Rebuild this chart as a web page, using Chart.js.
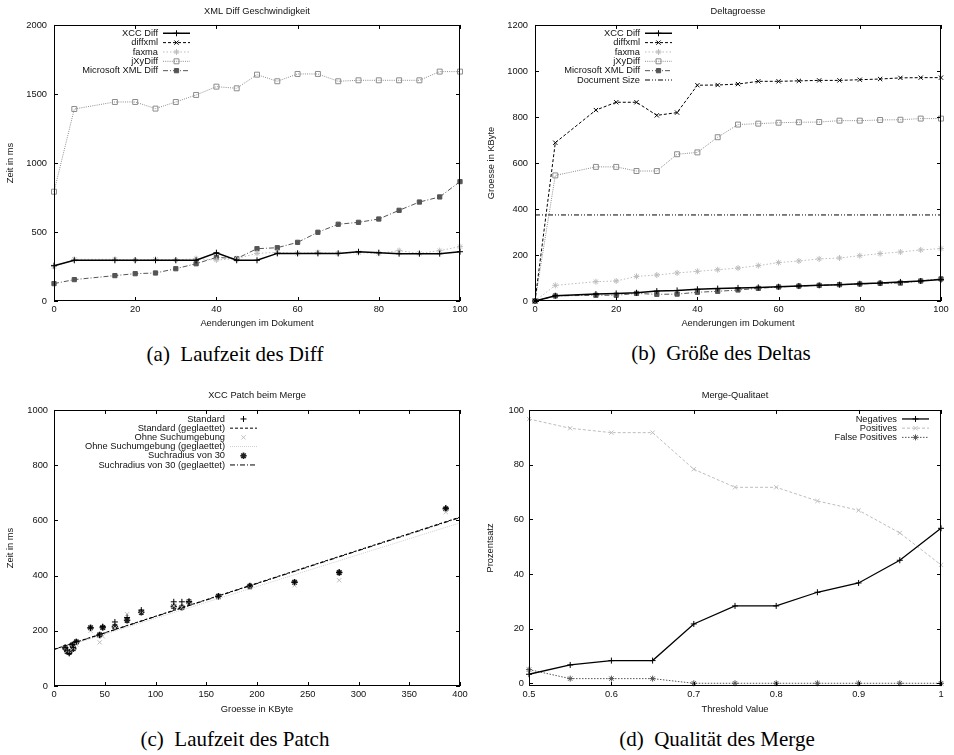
<!DOCTYPE html>
<html>
<head>
<meta charset="utf-8">
<script src="https://cdn.jsdelivr.net/npm/chart.js@4.4.1/dist/chart.umd.min.js"></script>
<style>
  html, body { margin: 0; padding: 0; background: #fff; overflow: hidden; }
  #page { position: relative; width: 954px; height: 755px; }
  canvas { position: absolute; }
  .cap {
    position: absolute;
    text-align: center;
    font-family: "Liberation Serif", "DejaVu Serif", serif;
    font-size: 21px;
    line-height: 21px;
    color: #000;
    white-space: pre;
  }
</style>
</head>
<body>
<div id="page">
  <canvas id="chartA" width="477" height="340" style="left:0;top:0"></canvas>
  <canvas id="chartB" width="477" height="340" style="left:477px;top:0"></canvas>
  <canvas id="chartC" width="477" height="345" style="left:0;top:380px"></canvas>
  <canvas id="chartD" width="477" height="345" style="left:477px;top:380px"></canvas>
  <div class="cap" style="left:0;width:470px;top:344px">(a)  Laufzeit des Diff</div>
  <div class="cap" style="left:481px;width:480px;top:343px">(b)  Größe des Deltas</div>
  <div class="cap" style="left:0;width:470px;top:729px">(c)  Laufzeit des Patch</div>
  <div class="cap" style="left:477px;width:480px;top:729px">(d)  Qualität des Merge</div>
</div>
<script>
// --- (a) + (b): Aenderungen im Dokument ---
const aenderungen = [0, 5, 15, 20, 25, 30, 35, 40, 45, 50, 55, 60, 65, 70, 75, 80, 85, 90, 95, 100];

// (a) Laufzeit in ms
const zeitXcc = [256, 295, 295, 295, 295, 295, 295, 350, 295, 295, 345, 345, 345, 345, 357, 350, 343, 343, 343, 357];
const zeitDiffxml = []; // ausserhalb des dargestellten Bereichs
const zeitFaxma = [249, 302, 302, 297, 302, 297, 307, 297, 307, 345, 352, 345, 352, 345, 350, 345, 365, 345, 365, 394];
const zeitJxy = [792, 1391, 1442, 1442, 1394, 1442, 1493, 1553, 1541, 1640, 1592, 1645, 1645, 1592, 1599, 1599, 1599, 1599, 1662, 1662];
const zeitMs = [126, 155, 184, 198, 203, 234, 270, 316, 307, 379, 386, 425, 498, 556, 570, 594, 657, 717, 754, 865];

// (b) Deltagroesse in KByte
const deltaXcc = [0, 23, 30, 33, 36, 43, 46, 51, 54, 57, 59, 62, 65, 68, 71, 75, 78, 83, 87, 93];
const deltaDiffxml = [0, 688, 830, 864, 864, 807, 819, 938, 939, 943, 955, 955, 957, 959, 959, 962, 965, 970, 971, 971];
const deltaFaxma = [0, 68, 84, 87, 107, 113, 122, 129, 136, 143, 154, 167, 174, 183, 187, 197, 206, 213, 222, 228];
const deltaJxy = [0, 546, 583, 583, 565, 565, 638, 646, 712, 767, 771, 775, 777, 778, 784, 784, 787, 788, 793, 793];
const deltaMs = [0, 22, 25, 25, 33, 29, 30, 38, 42, 48, 55, 61, 65, 68, 71, 74, 77, 78, 87, 96];
const docSizeX = [0, 100];
const docSize = [374, 374];

// --- (c) XCC Patch beim Merge ---
const patchGroesse = [11, 13, 15, 18, 19, 22, 36, 45, 48, 60, 72, 86, 118, 126, 133, 162, 193, 237, 281, 386];
const patchStandard = [140, 130, 118, 150, 140, 160, 210, 185, 215, 232, 248, 275, 305, 305, 305, 325, 362, 376, 412, 645];
const patchOhne = [135, 128, 125, 142, 138, 150, 200, 158, 180, 210, 260, 270, 290, 285, 305, 320, 355, 365, 383, 630];
const patchRadius30 = [138, 125, 122, 148, 135, 160, 211, 185, 212, 215, 238, 267, 288, 285, 305, 325, 362, 376, 411, 642];
const fitGroesse = [0, 400];
const fitStandard = [133, 612];
const fitOhne = [130, 591];
const fitRadius30 = [132, 610];

// --- (d) Merge-Qualitaet ---
const thresholds = [0.5, 0.55, 0.6, 0.65, 0.7, 0.75, 0.8, 0.85, 0.9, 0.95, 1];
const negatives = [3.3, 6.7, 8.3, 8.3, 21.7, 28.3, 28.3, 33.3, 36.7, 45, 56.7];
const positives = [96.7, 93.3, 91.7, 91.7, 78.3, 71.7, 71.7, 66.7, 63.3, 55, 43.3];
const falsePositives = [5, 1.7, 1.7, 1.7, 0, 0, 0, 0, 0, 0, 0];

// tick labels
const ticksAenderungen = [0, 20, 40, 60, 80, 100];
const ticksZeit = [0, 500, 1000, 1500, 2000];
const ticksDelta = [0, 200, 400, 600, 800, 1000, 1200];
const ticksGroesse = [0, 50, 100, 150, 200, 250, 300, 350, 400];
const ticksPatchZeit = [0, 200, 400, 600, 800, 1000];
const ticksThreshold = [0.5, 0.6, 0.7, 0.8, 0.9, 1];
const ticksProzent = [0, 20, 40, 60, 80, 100];

const FONT = { family: '"Liberation Sans", Arial, sans-serif', size: 9.3 };
const INK = '#111';

// line styles in gnuplot manner
const sXcc = { borderColor: '#000', borderWidth: 1.5, pointStyle: 'cross', pointRadius: 3 };
const sDiffxml = { borderColor: '#000', borderDash: [3, 2], pointStyle: 'crossRot', pointRadius: 3 };
const sFaxma = { borderColor: '#bdbdbd', borderDash: [1.5, 2], pointStyle: 'star', pointRadius: 3 };
const sJxy = { borderColor: '#8c8c8c', borderDash: [1, 1.2], pointStyle: 'rect', pointRadius: 3.5 };
const sMs = { borderColor: '#555', borderDash: [5, 2, 1, 2], pointStyle: 'rect', pointRadius: 3, pointBackgroundColor: '#555' };

function series(label, xs, ys, style) {
  return Object.assign({
    label: label,
    data: ys.map((y, i) => ({ x: xs[i], y: y })),
    borderWidth: 1,
    borderDash: [],
    pointRadius: 0,
    pointBorderWidth: 1,
    pointBackgroundColor: 'rgba(0,0,0,0)',
    fill: false,
    tension: 0,
    clip: false,
    showLine: true
  }, style, {
    pointBorderColor: style.pointColor || style.borderColor,
    pointHoverRadius: 0
  });
}

// box with inward ticks on all four sides
const gnuFrame = {
  id: 'gnuFrame',
  afterDatasetsDraw(chart) {
    const { ctx, chartArea: a, scales } = chart;
    const t = 4;
    ctx.save();
    ctx.strokeStyle = '#000';
    ctx.lineWidth = 1;
    ctx.setLineDash([]);
    ctx.beginPath();
    scales.x.ticks.forEach(tk => {
      const px = Math.round(scales.x.getPixelForValue(tk.value)) + 0.5;
      ctx.moveTo(px, a.bottom); ctx.lineTo(px, a.bottom - t);
      ctx.moveTo(px, a.top); ctx.lineTo(px, a.top + t);
    });
    scales.y.ticks.forEach(tk => {
      const py = Math.round(scales.y.getPixelForValue(tk.value)) + 0.5;
      ctx.moveTo(a.left, py); ctx.lineTo(a.left + t, py);
      ctx.moveTo(a.right, py); ctx.lineTo(a.right - t, py);
    });
    ctx.stroke();
    ctx.strokeRect(Math.round(a.left) + 0.5, Math.round(a.top) + 0.5,
      Math.round(a.right - a.left) - 1, Math.round(a.bottom - a.top) - 1);
    ctx.restore();
  }
};

// key: right aligned text, then a line sample with marker
const gnuLegend = {
  id: 'gnuLegend',
  afterDatasetsDraw(chart, args, opts) {
    const { ctx, chartArea } = chart;
    const textRight = chartArea.left + opts.textRight;
    let y = chartArea.top + opts.firstRow;
    ctx.save();
    ctx.font = FONT.size + 'px ' + FONT.family;
    ctx.textAlign = 'right';
    ctx.textBaseline = 'middle';
    chart.data.datasets.forEach(ds => {
      ctx.fillStyle = INK;
      ctx.fillText(ds.label, textRight, y);
      const x0 = textRight + opts.gap;
      const x1 = x0 + opts.sample;
      if (ds.showLine !== false) {
        ctx.strokeStyle = ds.borderColor;
        ctx.lineWidth = ds.borderWidth;
        ctx.setLineDash(ds.borderDash || []);
        ctx.beginPath();
        ctx.moveTo(x0, y);
        ctx.lineTo(x1, y);
        ctx.stroke();
      }
      if (ds.pointRadius > 0 && Chart.helpers && Chart.helpers.drawPoint) {
        ctx.setLineDash([]);
        ctx.strokeStyle = ds.pointBorderColor;
        ctx.fillStyle = ds.pointBackgroundColor;
        ctx.lineWidth = ds.pointBorderWidth;
        Chart.helpers.drawPoint(ctx, {
          pointStyle: ds.pointStyle, radius: ds.pointRadius,
          borderWidth: ds.pointBorderWidth, rotation: 0
        }, (x0 + x1) / 2, y);
      }
      y += opts.rowHeight;
    });
    ctx.restore();
  }
};

function makeChart(id, cfg) {
  const g = cfg.geom;
  return new Chart(document.getElementById(id), {
    type: 'line',
    data: { datasets: cfg.datasets },
    options: {
      responsive: false,
      animation: false,
      devicePixelRatio: 1,
      events: [],
      layout: { padding: { left: 0, top: 0, right: g.right, bottom: 0 } },
      scales: {
        x: {
          type: 'linear',
          min: cfg.xMin,
          max: cfg.xMax,
          grid: { display: false, drawTicks: false },
          border: { display: false },
          afterBuildTicks: s => { s.ticks = cfg.xTicks.map(v => ({ value: v })); },
          afterFit: s => { s.height = g.xHeight; s.paddingLeft = 0; s.paddingRight = 0; },
          ticks: { font: FONT, color: INK, padding: 3, maxRotation: 0, autoSkip: false, callback: v => String(v) },
          title: { display: true, text: cfg.xTitle, font: FONT, color: INK, padding: { top: 0, bottom: g.xTitlePad } }
        },
        y: {
          type: 'linear',
          min: cfg.yMin,
          max: cfg.yMax,
          grid: { display: false, drawTicks: false },
          border: { display: false },
          afterBuildTicks: s => { s.ticks = cfg.yTicks.map(v => ({ value: v })); },
          afterFit: s => { s.width = g.left; s.paddingTop = 0; s.paddingBottom = 0; },
          ticks: { font: FONT, color: INK, padding: g.yTickPad, autoSkip: false, callback: v => String(v) },
          title: { display: true, text: cfg.yTitle, font: FONT, color: INK, padding: { top: g.yTitlePad, bottom: 0 } }
        }
      },
      plugins: {
        legend: { display: false },
        tooltip: { enabled: false },
        title: {
          display: true, text: cfg.title, fullSize: false, font: Object.assign({ weight: 'normal' }, FONT),
          color: INK, padding: { top: g.titleTop, bottom: g.titleBottom }
        },
        gnuLegend: cfg.legend
      }
    },
    plugins: [gnuFrame, gnuLegend]
  });
}

// (a) Laufzeit des Diff
makeChart('chartA', {
  title: 'XML Diff Geschwindigkeit',
  xTitle: 'Aenderungen im Dokument',
  yTitle: 'Zeit in ms',
  xMin: 0, xMax: 100, yMin: 0, yMax: 2000,
  xTicks: ticksAenderungen, yTicks: ticksZeit,
  geom: { left: 54, right: 17, titleTop: 5.4, titleBottom: 8.4, xHeight: 39, xTitlePad: 11.4, yTitlePad: 4.4, yTickPad: 7 },
  legend: { textRight: 104, firstRow: 8.3, rowHeight: 9.35, gap: 5, sample: 27 },
  datasets: [
    series('XCC Diff', aenderungen, zeitXcc, sXcc),
    series('diffxml', aenderungen, zeitDiffxml, sDiffxml),
    series('faxma', aenderungen, zeitFaxma, sFaxma),
    series('jXyDiff', aenderungen, zeitJxy, sJxy),
    series('Microsoft XML Diff', aenderungen, zeitMs, sMs)
  ]
});

// (b) Groesse des Deltas
makeChart('chartB', {
  title: 'Deltagroesse',
  xTitle: 'Aenderungen im Dokument',
  yTitle: 'Groesse in KByte',
  xMin: 0, xMax: 100, yMin: 0, yMax: 1200,
  xTicks: ticksAenderungen, yTicks: ticksDelta,
  geom: { left: 58, right: 13, titleTop: 5.4, titleBottom: 8.4, xHeight: 39, xTitlePad: 11.4, yTitlePad: 9.1, yTickPad: 7 },
  legend: { textRight: 105, firstRow: 8.3, rowHeight: 9.35, gap: 5, sample: 27 },
  datasets: [
    series('XCC Diff', aenderungen, deltaXcc, sXcc),
    series('diffxml', aenderungen, deltaDiffxml, sDiffxml),
    series('faxma', aenderungen, deltaFaxma, sFaxma),
    series('jXyDiff', aenderungen, deltaJxy, sJxy),
    series('Microsoft XML Diff', aenderungen, deltaMs, sMs),
    series('Document Size', docSizeX, docSize, { borderColor: '#000', borderDash: [5, 2, 1, 2, 1, 2] })
  ]
});

// (c) Laufzeit des Patch
makeChart('chartC', {
  title: 'XCC Patch beim Merge',
  xTitle: 'Groesse in KByte',
  yTitle: 'Zeit in ms',
  xMin: 0, xMax: 400, yMin: 0, yMax: 1000,
  xTicks: ticksGroesse, yTicks: ticksPatchZeit,
  geom: { left: 54, right: 17, titleTop: 10.1, titleBottom: 8.7, xHeight: 39, xTitlePad: 10.4, yTitlePad: 4.4, yTickPad: 6 },
  legend: { textRight: 171, firstRow: 9, rowHeight: 9.2, gap: 5, sample: 27 },
  datasets: [
    series('Standard', patchGroesse, patchStandard, { borderColor: '#000', showLine: false, pointStyle: 'cross', pointRadius: 3 }),
    series('Standard (geglaettet)', fitGroesse, fitStandard, { borderColor: '#000', borderDash: [3, 2] }),
    series('Ohne Suchumgebung', patchGroesse, patchOhne, { borderColor: '#bdbdbd', showLine: false, pointStyle: 'crossRot', pointRadius: 3 }),
    series('Ohne Suchumgebung (geglaettet)', fitGroesse, fitOhne, { borderColor: '#cfcfcf', borderDash: [1, 1] }),
    series('Suchradius von 30', patchGroesse, patchRadius30, { borderColor: '#222', showLine: false, pointStyle: 'star', pointRadius: 3.2, pointBorderWidth: 1.6 }),
    series('Suchradius von 30 (geglaettet)', fitGroesse, fitRadius30, { borderColor: '#000', borderDash: [5, 2, 1, 2] })
  ]
});

// (d) Qualitaet des Merge
makeChart('chartD', {
  title: 'Merge-Qualitaet',
  xTitle: 'Threshold Value',
  yTitle: 'Prozentsatz',
  xMin: 0.5, xMax: 1, yMin: -1, yMax: 100,
  xTicks: ticksThreshold, yTicks: ticksProzent,
  geom: { left: 52, right: 13, titleTop: 10.1, titleBottom: 8.7, xHeight: 39, xTitlePad: 10.4, yTitlePad: 8.1, yTickPad: 5 },
  legend: { textRight: 368, firstRow: 9, rowHeight: 9.2, gap: 5, sample: 27 },
  datasets: [
    series('Negatives', thresholds, negatives, { borderColor: '#000', borderWidth: 1.3, pointStyle: 'cross', pointRadius: 3 }),
    series('Positives', thresholds, positives, { borderColor: '#bdbdbd', borderDash: [3, 2], pointStyle: 'crossRot', pointRadius: 3 }),
    series('False Positives', thresholds, falsePositives, { borderColor: '#555', borderDash: [1.5, 1.5], pointStyle: 'star', pointRadius: 3 })
  ]
});
</script>
</body>
</html>
